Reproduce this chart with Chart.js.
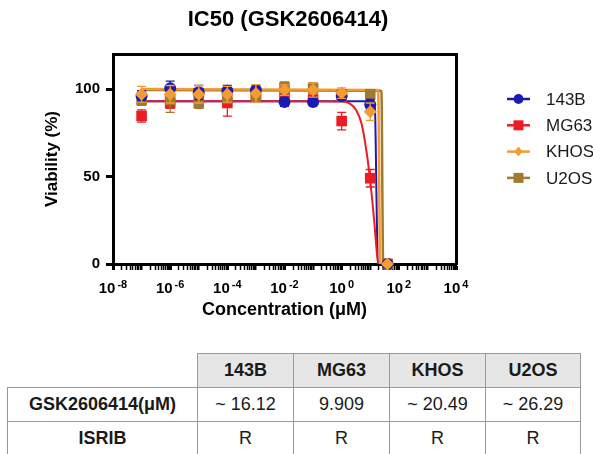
<!DOCTYPE html>
<html>
<head>
<meta charset="utf-8">
<title>IC50 (GSK2606414)</title>
<script src="https://cdn.jsdelivr.net/npm/chart.js@4.4.1/dist/chart.umd.min.js"></script>
<style>
    body {
        margin: 0;
        background: #ffffff;
        font-family: "Liberation Sans", Arial, sans-serif;
    }
    #page {
        position: relative;
        width: 593px;
        height: 454px;
        overflow: hidden;
    }
    #chart-box {
        position: absolute;
        left: 0;
        top: 0;
        width: 593px;
        height: 340px;
    }
    #ic50-table {
        position: absolute;
        left: 7px;
        top: 353px;
        border-collapse: collapse;
        table-layout: fixed;
        font-size: 18px;
        color: #1a1a1a;
    }
    #ic50-table th,
    #ic50-table td {
        border: 1px solid #9a9a9a;
        height: 33px;
        padding: 0;
        text-align: center;
        white-space: nowrap;
    }
    #ic50-table th {
        background: #e6e6e6;
        font-weight: bold;
    }
    #ic50-table th.blank {
        background: #ffffff;
        border-top: none;
        border-left: none;
    }
    #ic50-table td.row-head {
        font-weight: bold;
    }
</style>
</head>
<body>
<div id="page">
    <div id="chart-box"><canvas id="ic50Chart"></canvas></div>
    <table id="ic50-table">
        <colgroup>
            <col style="width: 190px">
            <col style="width: 96px">
            <col style="width: 96px">
            <col style="width: 96px">
            <col style="width: 95px">
        </colgroup>
        <thead><tr id="table-head"></tr></thead>
        <tbody id="table-body"></tbody>
    </table>
</div>
<script>
// concentrations in µM
const concentrations = [1e-7, 1e-6, 1e-5, 1e-4, 1e-3, 1e-2, 1e-1, 1, 10, 40];

const cellLines = ["143B", "MG63", "KHOS", "U2OS"];

const viability143B = [96, 100.5, 98, 99, 99.4, 92.6, 92.6, 96, 91, 0];
const viabilityMG63 = [84.6, 92, 97.5, 92, 96, 96, 94, 81.7, 49, 0];
const viabilityKHOS = [97, 97, 97, 97, 97.5, 99.4, 99.4, 97.7, 87, 0];
const viabilityU2OS = [93.7, 93.7, 92, 95, 96.5, 101, 100.5, 96.6, 97, 0];

const sd143B = [3, 4, 4, 3, 3, 2.5, 2, 2, 3, 0.5];
const sdMG63 = [3.5, 3, 3, 7.5, 3, 2, 2, 5, 5, 0.5];
const sdKHOS = [4.5, 5, 5, 4.5, 5, 3, 4, 3, 5, 0.5];
const sdU2OS = [3, 7, 3, 3, 3, 3, 3, 3, 2, 0.5];

// fitted curves
const fit143BX = [1e-7, 13, 14.5, 15.5, 16.12, 17, 18.6, 40];
const fit143BY = [93, 93, 90, 70, 50, 25, 0, 0];
const fitMG63X = [1e-7, 0.1, 1, 2, 3.2, 5, 7.6, 9.909, 13.5, 16.5, 19, 40];
const fitMG63Y = [93, 93, 92.8, 91.5, 88, 80, 63, 48, 26, 9, 0, 0];
const fitKHOSX = [1e-7, 18.5, 19.5, 20.49, 21.5, 23, 40];
const fitKHOSY = [100, 99.5, 90, 50, 10, 0, 0];
const fitU2OSX = [1e-7, 24, 25.3, 26.29, 27.5, 29, 40];
const fitU2OSY = [99.5, 99, 90, 50, 10, 0, 0];

const yTicks = [0, 50, 100];
const xLabelExponents = [-8, -6, -4, -2, 0, 2, 4];

const ic50Values = ["~ 16.12", "9.909", "~ 20.49", "~ 26.29"];
const isribValues = ["R", "R", "R", "R"];

const series = [
    { name: "143B", values: viability143B, sd: sd143B, fitX: fit143BX, fitY: fit143BY,
      color: "#1a1ab4", pointStyle: "circle", radius: 6, pointOrder: 2, lineOrder: 8, lineWidth: 2 },
    { name: "MG63", values: viabilityMG63, sd: sdMG63, fitX: fitMG63X, fitY: fitMG63Y,
      color: "#ec1c24", pointStyle: "rect", radius: 7.5, pointOrder: 4, lineOrder: 7, lineWidth: 2 },
    { name: "KHOS", values: viabilityKHOS, sd: sdKHOS, fitX: fitKHOSX, fitY: fitKHOSY,
      color: "#f59b2f", pointStyle: "rectRot", radius: 6.5, pointOrder: 1, lineOrder: 5, lineWidth: 2.5 },
    { name: "U2OS", values: viabilityU2OS, sd: sdU2OS, fitX: fitU2OSX, fitY: fitU2OSY,
      color: "#a07a30", pointStyle: "rect", radius: 7.5, pointOrder: 3, lineOrder: 6, lineWidth: 2.5 },
];

const FONT = '"Liberation Sans", Arial, sans-serif';

function buildTable() {
    const head = document.getElementById("table-head");
    head.innerHTML = '<th class="blank"></th>' + cellLines.map((name) => `<th>${name}</th>`).join("");
    const body = document.getElementById("table-body");
    body.innerHTML = [
        ["GSK2606414(\u03BCM)", ic50Values],
        ["ISRIB", isribValues],
    ]
        .map(([label, values]) =>
            `<tr><td class="row-head">${label}</td>${values.map((v) => `<td>${v}</td>`).join("")}</tr>`)
        .join("");
}

function xTickValues() {
    const values = [];
    for (let e = xLabelExponents[0]; e < xLabelExponents[xLabelExponents.length - 1]; e++) {
        for (let k = 1; k <= 9; k++) {
            values.push(k * Math.pow(10, e));
        }
    }
    values.push(Math.pow(10, xLabelExponents[xLabelExponents.length - 1]));
    return values;
}

function decadeOf(value) {
    const e = Math.log10(value);
    const r = Math.round(e);
    return Math.abs(e - r) < 1e-6 ? r : null;
}

const errorBarPlugin = {
    id: "errorBars",
    beforeDatasetDraw(chart, args) {
        const dataset = chart.data.datasets[args.index];
        if (!dataset.errorBars) {
            return;
        }
        const yScale = chart.scales.y;
        const ctx = chart.ctx;
        ctx.save();
        ctx.strokeStyle = dataset.borderColor;
        ctx.lineWidth = 1.3;
        args.meta.data.forEach((point, i) => {
            const value = dataset.data[i].y;
            const err = dataset.errorBars[i];
            const top = yScale.getPixelForValue(value + err);
            const bottom = yScale.getPixelForValue(Math.max(0, value - err));
            ctx.beginPath();
            ctx.moveTo(point.x, top);
            ctx.lineTo(point.x, bottom);
            ctx.moveTo(point.x - 4.5, top);
            ctx.lineTo(point.x + 4.5, top);
            ctx.moveTo(point.x - 4.5, bottom);
            ctx.lineTo(point.x + 4.5, bottom);
            ctx.stroke();
        });
        ctx.restore();
    },
};

// "10" with a raised exponent under each labelled decade
const powerLabelPlugin = {
    id: "powerLabels",
    afterDraw(chart) {
        const scale = chart.scales.x;
        const ctx = chart.ctx;
        const baseline = scale.top + 29;
        ctx.save();
        ctx.fillStyle = "#000000";
        ctx.textBaseline = "alphabetic";
        ctx.textAlign = "left";
        xLabelExponents.forEach((e) => {
            const x = scale.getPixelForValue(Math.pow(10, e));
            const base = "10";
            const sup = String(e);
            ctx.font = `bold 15px ${FONT}`;
            const baseWidth = ctx.measureText(base).width;
            ctx.font = `bold 11px ${FONT}`;
            const supWidth = ctx.measureText(sup).width;
            const start = x - (baseWidth + supWidth + 2) / 2;
            ctx.font = `bold 15px ${FONT}`;
            ctx.fillText(base, start, baseline);
            ctx.font = `bold 11px ${FONT}`;
            ctx.fillText(sup, start + baseWidth + 2, baseline - 5);
        });
        ctx.restore();
    },
};

function drawMarker(ctx, style, x, y, size) {
    ctx.beginPath();
    if (style === "circle") {
        ctx.arc(x, y, size * 0.9, 0, Math.PI * 2);
    } else if (style === "rectRot") {
        ctx.moveTo(x, y - size);
        ctx.lineTo(x + size * 0.8, y);
        ctx.lineTo(x, y + size);
        ctx.lineTo(x - size * 0.8, y);
        ctx.closePath();
    } else {
        ctx.rect(x - size, y - size, size * 2, size * 2);
    }
    ctx.fill();
}

const sideLegendPlugin = {
    id: "sideLegend",
    afterDraw(chart) {
        const ctx = chart.ctx;
        const left = chart.chartArea.right + 51;
        const sizes = [5.5, 5, 5, 5];
        ctx.save();
        series.forEach((s, i) => {
            const y = 99 + i * 26.3;
            ctx.strokeStyle = s.color;
            ctx.fillStyle = s.color;
            ctx.lineWidth = 2.5;
            ctx.beginPath();
            ctx.moveTo(left, y);
            ctx.lineTo(left + 23, y);
            ctx.stroke();
            drawMarker(ctx, s.pointStyle, left + 11.5, y, sizes[i]);
            ctx.fillStyle = "#1a1a1a";
            ctx.font = `17px ${FONT}`;
            ctx.textBaseline = "middle";
            ctx.textAlign = "left";
            ctx.fillText(s.name, left + 39, y + 1);
        });
        ctx.restore();
    },
};

function buildDatasets() {
    const datasets = [];
    series.forEach((s) => {
        datasets.push({
            label: s.name,
            type: "scatter",
            data: concentrations.map((c, i) => ({ x: c, y: s.values[i] })),
            errorBars: s.sd,
            pointStyle: s.pointStyle,
            pointRadius: s.radius,
            pointHoverRadius: s.radius,
            pointBorderWidth: 0,
            backgroundColor: s.color,
            borderColor: s.color,
            showLine: false,
            clip: false,
            order: s.pointOrder,
        });
        datasets.push({
            label: `${s.name} fit`,
            type: "line",
            data: s.fitX.map((x, i) => ({ x, y: s.fitY[i] })),
            borderColor: s.color,
            borderWidth: s.lineWidth,
            pointRadius: 0,
            fill: false,
            cubicInterpolationMode: "monotone",
            order: s.lineOrder,
        });
    });
    return datasets;
}

function initializeChart() {
    Chart.defaults.font.family = FONT;
    Chart.defaults.color = "#000000";

    const context = document.getElementById("ic50Chart").getContext("2d");
    return new Chart(context, {
        type: "scatter",
        data: { datasets: buildDatasets() },
        options: {
            responsive: true,
            maintainAspectRatio: false,
            animation: false,
            events: [],
            layout: { padding: { left: 0, right: 17, top: 0, bottom: 0 } },
            plugins: {
                legend: { display: false },
                tooltip: { enabled: false },
                title: {
                    display: true,
                    text: "IC50 (GSK2606414)",
                    color: "#000000",
                    font: { size: 22, weight: "bold" },
                    padding: { top: 7, bottom: 20.6 },
                },
            },
            scales: {
                x: {
                    type: "logarithmic",
                    position: "bottom",
                    min: 1e-8,
                    max: 1e4,
                    afterBuildTicks: (scale) => {
                        scale.ticks = xTickValues().map((value) => ({ value }));
                    },
                    afterFit: (scale) => {
                        scale.height = 76;
                    },
                    ticks: {
                        autoSkip: false,
                        maxRotation: 0,
                        padding: 8,
                        callback: () => "",
                    },
                    grid: {
                        drawOnChartArea: false,
                        tickLength: 6,
                        tickColor: "#000000",
                        tickWidth: (ctx) => {
                            const e = ctx.tick ? decadeOf(ctx.tick.value) : null;
                            if (e === null) return 1.5;
                            return xLabelExponents.includes(e) ? 3 : 2;
                        },
                    },
                    border: { display: true, color: "#000000", width: 3 },
                    title: {
                        display: true,
                        text: "Concentration (\u03BCM)",
                        color: "#000000",
                        font: { size: 18, weight: "bold" },
                        padding: { top: 0, bottom: 19 },
                    },
                },
                y: {
                    type: "linear",
                    position: "left",
                    min: 0,
                    max: 120,
                    afterBuildTicks: (scale) => {
                        scale.ticks = yTicks.map((value) => ({ value }));
                    },
                    afterFit: (scale) => {
                        scale.width = 113;
                    },
                    ticks: {
                        padding: 6,
                        color: "#000000",
                        font: { size: 15, weight: "bold" },
                    },
                    grid: {
                        drawOnChartArea: false,
                        tickLength: 7,
                        tickWidth: 3,
                        tickColor: "#000000",
                    },
                    border: { display: true, color: "#000000", width: 3 },
                    title: {
                        display: true,
                        text: "Viability (%)",
                        color: "#000000",
                        font: { size: 17, weight: "bold" },
                        padding: { top: 42, bottom: 0 },
                    },
                },
                yFrame: {
                    type: "linear",
                    position: "right",
                    min: 0,
                    max: 120,
                    afterFit: (scale) => {
                        scale.width = 120;
                    },
                    ticks: { display: false },
                    grid: { display: false },
                    border: { display: true, color: "#000000", width: 3 },
                },
                xFrame: {
                    type: "linear",
                    position: "top",
                    min: 0,
                    max: 1,
                    afterFit: (scale) => {
                        scale.height = 0;
                    },
                    ticks: { display: false },
                    grid: { display: false },
                    border: { display: true, color: "#000000", width: 3 },
                },
            },
        },
        plugins: [errorBarPlugin, powerLabelPlugin, sideLegendPlugin],
    });
}

buildTable();
initializeChart();
</script>
</body>
</html>
